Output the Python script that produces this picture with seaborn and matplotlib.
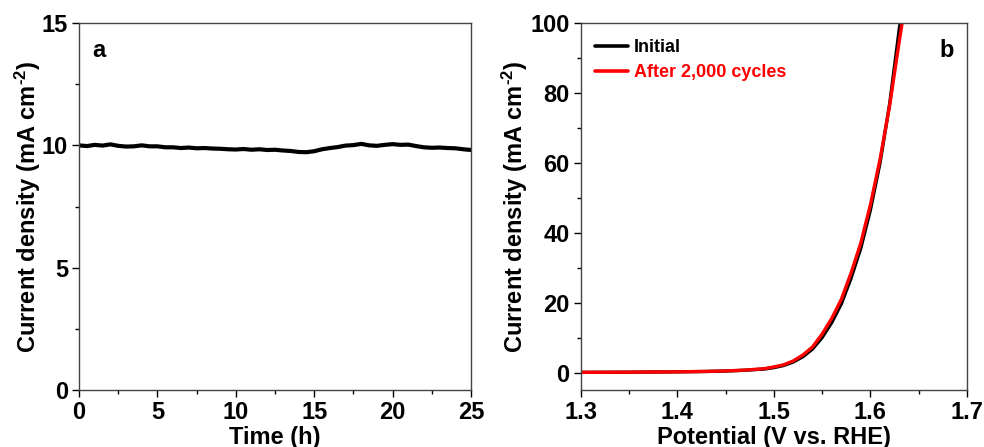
import matplotlib
matplotlib.use("Agg")
import matplotlib.pyplot as plt
from matplotlib.ticker import MultipleLocator
import seaborn as sns
import pandas as pd

# ---- data ----
time_h = [0, 0.5, 1, 1.5, 2, 2.5, 3, 3.5, 4, 4.5, 5, 5.5, 6, 6.5, 7, 7.5, 8, 8.5,
          9, 9.5, 10, 10.5, 11, 11.5, 12, 12.5, 13, 13.5, 14, 14.5, 15, 15.5, 16,
          16.5, 17, 17.5, 18, 18.5, 19, 19.5, 20, 20.5, 21, 21.5, 22, 22.5, 23,
          23.5, 24, 24.5, 25]
current_a = [10.00, 9.97, 10.02, 9.99, 10.04, 9.98, 9.95, 9.96, 10.00, 9.96,
             9.96, 9.92, 9.92, 9.89, 9.91, 9.88, 9.89, 9.87, 9.86, 9.84, 9.83,
             9.85, 9.82, 9.84, 9.81, 9.82, 9.79, 9.77, 9.73, 9.72, 9.76, 9.84,
             9.89, 9.93, 9.99, 10.01, 10.06, 10.00, 9.98, 10.02, 10.05, 10.02,
             10.03, 9.97, 9.92, 9.90, 9.91, 9.89, 9.88, 9.84, 9.81]

pot_initial = [1.30, 1.35, 1.40, 1.43, 1.45, 1.47, 1.49, 1.50, 1.51, 1.52, 1.53,
               1.54, 1.55, 1.56, 1.57, 1.58, 1.59, 1.60, 1.61, 1.62, 1.63, 1.632]
cur_initial = [0.05, 0.10, 0.20, 0.30, 0.42, 0.65, 1.0, 1.4, 2.0, 3.0, 4.5,
               6.7, 10.0, 14.3, 19.7, 27.0, 35.5, 46.5, 60.0, 77.0, 98.5, 102.0]
pot_after = [1.30, 1.35, 1.40, 1.43, 1.45, 1.47, 1.49, 1.50, 1.51, 1.52, 1.53,
             1.54, 1.55, 1.56, 1.57, 1.58, 1.59, 1.60, 1.61, 1.62, 1.63, 1.634]
cur_after = [0.05, 0.10, 0.20, 0.32, 0.45, 0.70, 1.1, 1.6, 2.2, 3.3, 5.0,
             7.3, 11.0, 15.5, 21.0, 28.5, 37.0, 48.0, 61.0, 76.5, 95.0, 102.0]

labels_b = ["Initial", "After 2,000 cycles"]
colors_b = ["#000000", "#ff0000"]

# ---- style ----
sns.set_style("ticks")
plt.rcParams['font.family'] = ['Liberation Sans', 'DejaVu Sans']
plt.rcParams['font.weight'] = 'bold'
plt.rcParams['axes.labelweight'] = 'bold'
plt.rcParams['mathtext.fontset'] = 'custom'
plt.rcParams['mathtext.rm'] = 'Liberation Sans:bold'
plt.rcParams['mathtext.bf'] = 'Liberation Sans:bold'
plt.rcParams['mathtext.default'] = 'bf'
plt.rcParams['text.color'] = 'black'
plt.rcParams['axes.labelcolor'] = 'black'
plt.rcParams['xtick.color'] = 'black'
plt.rcParams['ytick.color'] = 'black'

FS = 17
YLAB = r"Current density (mA cm$^{\text{-2}}$)"
fig = plt.figure(figsize=(9.84, 4.47), dpi=100)
ax1 = fig.add_axes([0.0803, 0.1275, 0.3984, 0.821])
ax2 = fig.add_axes([0.5901, 0.1275, 0.3926, 0.821])

dfa = pd.DataFrame({"t": time_h, "j": current_a})
sns.lineplot(data=dfa, x="t", y="j", ax=ax1, color="black", linewidth=3.0)

dfb = pd.concat([
    pd.DataFrame({"V": pot_initial, "j": cur_initial, "s": labels_b[0]}),
    pd.DataFrame({"V": pot_after, "j": cur_after, "s": labels_b[1]}),
])
sns.lineplot(data=dfb, x="V", y="j", hue="s", palette=colors_b, ax=ax2,
             linewidth=2.4, sort=False)
for ln in ax2.get_lines():
    ln.set_solid_joinstyle('round')

ax1.set_xlim(0, 25)
ax1.set_ylim(0, 15)
ax1.xaxis.set_major_locator(MultipleLocator(5))
ax1.xaxis.set_minor_locator(MultipleLocator(2.5))
ax1.yaxis.set_major_locator(MultipleLocator(5))
ax1.yaxis.set_minor_locator(MultipleLocator(2.5))
ax1.set_xlabel("Time (h)", fontsize=FS, fontweight='bold', labelpad=1)
ax1.set_ylabel(YLAB, fontsize=FS, fontweight='bold', labelpad=-1)
ax1.text(0.035, 0.925, "a", transform=ax1.transAxes, fontsize=FS, fontweight='bold',
         ha='left', va='center')

ax2.set_xlim(1.3, 1.7)
ax2.set_ylim(-5, 100)
ax2.xaxis.set_major_locator(MultipleLocator(0.1))
ax2.xaxis.set_minor_locator(MultipleLocator(0.05))
ax2.yaxis.set_major_locator(MultipleLocator(20))
ax2.yaxis.set_minor_locator(MultipleLocator(10))
ax2.set_xlabel("Potential (V vs. RHE)", fontsize=FS, fontweight='bold', labelpad=1)
ax2.set_ylabel(YLAB, fontsize=FS, fontweight='bold', labelpad=0)
ax2.text(0.965, 0.925, "b", transform=ax2.transAxes, fontsize=FS, fontweight='bold',
         ha='right', va='center')

leg = ax2.legend(loc='upper left', bbox_to_anchor=(-0.005, 1.0), frameon=False,
                 handlelength=1.85, handletextpad=0.3, labelspacing=0.45,
                 prop={'weight': 'bold', 'size': 13})
for txt, c in zip(leg.get_texts(), colors_b):
    txt.set_color(c)
for h in leg.legend_handles:
    h.set_linewidth(2.6)

for ax in (ax1, ax2):
    for sp in ax.spines.values():
        sp.set_visible(True)
        sp.set_color("#444444")
        sp.set_linewidth(1.0)
    ax.tick_params(which='major', direction='out', length=5, width=1, labelsize=FS, pad=3)
    ax.tick_params(which='minor', direction='out', length=3, width=1)
    for lab in ax.get_xticklabels() + ax.get_yticklabels():
        lab.set_fontweight('bold')

fig.savefig("out.png", dpi=100)
